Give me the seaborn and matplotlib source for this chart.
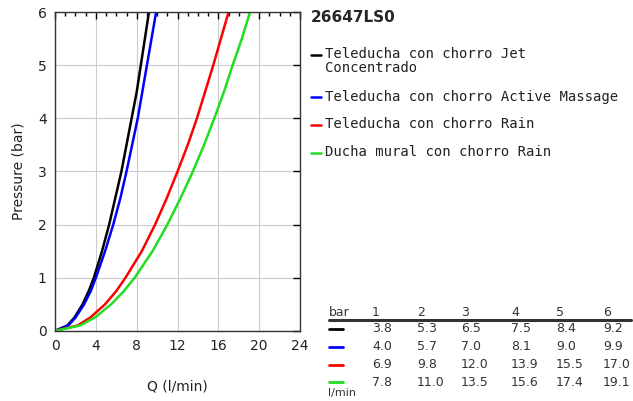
import numpy as np
import pandas as pd
import matplotlib
matplotlib.use("Agg")
import matplotlib.pyplot as plt
import seaborn as sns
from matplotlib.ticker import MultipleLocator

pressure = [0, 0.1, 0.25, 0.5, 0.75, 1, 1.5, 2, 2.5, 3, 3.5, 4, 4.5, 5, 5.5, 6]
jet = [0, 1.2, 1.9, 2.7, 3.3, 3.8, 4.6, 5.3, 5.9, 6.5, 7.0, 7.5, 8.0, 8.4, 8.8, 9.2]
massage = [0, 1.3, 2.0, 2.85, 3.5, 4.0, 4.9, 5.7, 6.4, 7.0, 7.55, 8.1, 8.55, 9.0, 9.45, 9.9]
rain = [0, 2.2, 3.45, 4.9, 6.0, 6.9, 8.5, 9.8, 10.95, 12.0, 13.0, 13.9, 14.7, 15.5, 16.25, 17.0]
mural = [0, 2.45, 3.9, 5.5, 6.75, 7.8, 9.55, 11.0, 12.3, 13.5, 14.6, 15.6, 16.55, 17.4, 18.3, 19.1]

names = ["Teleducha con chorro Jet\nConcentrado",
         "Teleducha con chorro Active Massage",
         "Teleducha con chorro Rain",
         "Ducha mural con chorro Rain"]
colors = ["#000000", "#0000ff", "#ff0000", "#22dd22"]
table_bar = [1, 2, 3, 4, 5, 6]
table_idx = [pressure.index(b) for b in table_bar]

df = pd.concat([pd.DataFrame({"Q": q, "p": pressure, "serie": n})
                for q, n in zip([jet, massage, rain, mural], names)])

sns.set_style("white")
fig = plt.figure(figsize=(6.33, 4.01), dpi=100)
ax = fig.add_axes([0.087, 0.175, 0.387, 0.795])
sns.lineplot(data=df, x="Q", y="p", hue="serie", palette=colors, lw=1.8,
             sort=False, legend=False, ax=ax)

ax.set_xlim(0, 24)
ax.set_ylim(0, 6)
ax.xaxis.set_major_locator(MultipleLocator(4))
ax.xaxis.set_minor_locator(MultipleLocator(1))
ax.yaxis.set_major_locator(MultipleLocator(1))
ax.tick_params(which="both", direction="in", top=True, right=True, labelsize=10,
               color="black", labelcolor="#222222")
ax.tick_params(which="major", length=5, width=1, pad=6)
ax.tick_params(which="minor", length=3, width=1)
ax.grid(True, which="major", color="#cccccc", lw=0.8)
for s in ax.spines.values():
    s.set_color("#333333")
    s.set_linewidth(1)
ax.set_xlabel("Q (l/min)", fontsize=10, labelpad=19, color="#222222")
ax.set_ylabel("Pressure (bar)", fontsize=10, labelpad=9, color="#222222")

W, H = 633, 401
def px(x, y):
    return x / W, 1 - y / H

# title and legend
fig.text(*px(311, 18), "26647LS0", fontsize=11, fontweight="bold", va="center",
         family="Liberation Sans Narrow")
leg_y = [55, 97, 125, 153]
for y, n, c in zip(leg_y, names, colors):
    fig.add_artist(plt.Line2D([311 / W, 321 / W], [1 - y / H] * 2, color=c, lw=1.8))
    fig.text(*px(325, y - 7.5), n, fontsize=10, family="DejaVu Sans Mono", va="top",
             color="#222222", linespacing=0.95)

# table
col_x = [372, 417, 461, 511, 556, 603]
fig.text(*px(329, 312), "bar", fontsize=9, va="center", color="#333333")
for x, b in zip(col_x, table_bar):
    fig.text(*px(x, 312), str(b), fontsize=9, va="center", color="#333333")
fig.add_artist(plt.Line2D([329 / W, 631 / W], [1 - 319.5 / H] * 2, color="#333333", lw=2.2))
row_y = [329, 347, 365, 382]
for y, q, c in zip(row_y, [jet, massage, rain, mural], colors):
    fig.add_artist(plt.Line2D([329 / W, 343 / W], [1 - y / H] * 2, color=c, lw=2))
    for x, i in zip(col_x, table_idx):
        fig.text(*px(x, y), f"{q[i]:.1f}", fontsize=9, va="center", color="#333333")
fig.text(*px(328, 393), "l/min", fontsize=8, va="center", color="#333333")

fig.savefig("out.png", dpi=100)
